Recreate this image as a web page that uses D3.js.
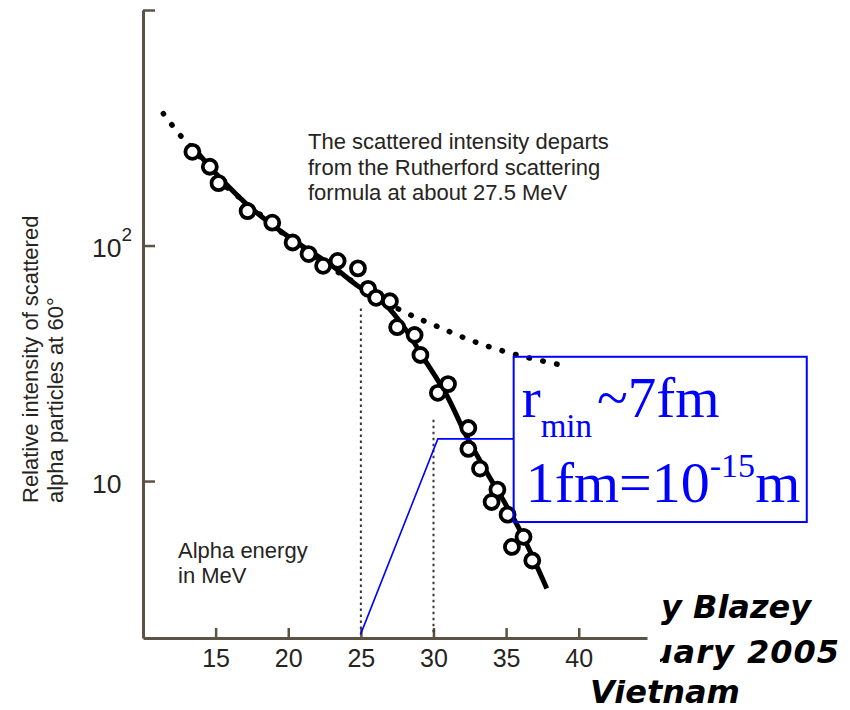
<!DOCTYPE html>
<html lang="en">
<head>
  <meta charset="UTF-8">
  <title>Rutherford scattering departure</title>
  <script src="https://d3js.org/d3.v7.min.js"></script>
  <style>
    body {
      margin: 0;
      background: #fff;
    }
    .label {
      font-family: 'Liberation Sans', Arial, sans-serif;
      font-size: 22px;
      fill: #262420;
    }
    .slide {
      font-family: 'DejaVu Sans', Verdana, sans-serif;
      font-size: 32px;
      font-weight: bold;
      font-style: italic;
      fill: #000;
    }
    .boxtext {
      font-family: 'Liberation Serif', 'Times New Roman', serif;
      fill: #0000ff;
    }
  </style>
</head>
<body>
  <svg id="chart" width="850" height="710"></svg>

  <script>
    // measured alpha energies (MeV) and relative intensities
    const energy = [13.4, 14.6, 15.2, 17.2, 18.9, 20.3, 21.4, 22.4, 23.4, 24.8,
                    25.5, 26.05, 27.0, 27.5, 28.7, 29.1, 30.3, 31.0, 32.4, 32.4,
                    33.2, 34.4, 34.0, 35.1, 36.2, 35.4, 36.8];
    const intensity = [250, 216, 184, 140, 125, 103, 92, 82, 86, 80,
                       65.5, 60, 58, 45, 41.7, 34.3, 23.7, 25.8, 16.8, 13.7,
                       11.3, 9.2, 8.15, 7.2, 5.8, 5.25, 4.6];

    // solid curve drawn through the data
    const fitE = [13.6, 15.3, 17.4, 20.1, 22.9, 24.7, 26.7, 28.0, 29.4, 30.9, 32.3, 33.7, 34.8, 36.0, 37.8];
    const fitI = [255, 194, 145, 108, 83, 68, 56, 44.7, 32.7, 23.2, 15.4, 10.8, 8.3, 6.1, 3.5];

    // dotted Rutherford formula curve
    const rutherE = [11.4, 12.6, 13.6, 15, 17.5, 20, 22.5, 25, 27.7, 30.2, 33, 36, 38.7];
    const rutherI = [363, 292, 252, 195, 145, 108, 84, 67, 53.3, 45.5, 38.7, 34, 31.2];

    const xTicks = [15, 20, 25, 30, 35, 40];
    const yTicks = [10, 100, 1000];
    const yTickBase = ["10", "10", ""];
    const yTickExp = ["", "2", ""];

    // vertical reference lines [energy, top intensity]
    const markers = [[25, 54], [30, 18.2]];

    const noteLines = ["The scattered intensity departs",
                       "from the Rutherford scattering",
                       "formula at about 27.5 MeV"];
    const energyNote = ["Alpha energy", "in MeV"];
    const yLabel = ["Relative intensity of scattered", "alpha particles at 60°"];
    const slideLines = ["y Blazey", "uary 2005", "Vietnam"];

    const svg = d3.select("#chart");
    const axisColor = "#5b5346";

    // slide text behind the picture
    svg.append("text").attr("class", "slide").attr("x", 661).attr("y", 618).text(slideLines[0]);
    svg.append("text").attr("class", "slide").attr("x", 840).attr("y", 663)
      .attr("text-anchor", "end").attr("letter-spacing", 1).text(slideLines[1]);
    svg.append("text").attr("class", "slide").attr("x", 590).attr("y", 703).text(slideLines[2]);

    // picture background
    svg.append("rect").attr("x", 0).attr("y", 0).attr("width", 660).attr("height", 680).attr("fill", "#fff");

    const x = d3.scaleLinear().domain([10, 44.7]).range([143, 647]);
    const y = d3.scaleLog().domain([2.156, 1000]).range([638, 10]);

    // axes
    const xAxis = svg.append("g")
      .attr("transform", `translate(0,${y.range()[0]})`)
      .call(d3.axisBottom(x).tickValues(xTicks).tickSizeInner(-10).tickSizeOuter(0).tickPadding(11)
        .tickFormat(d3.format("d")));
    xAxis.select(".domain").attr("stroke", axisColor).attr("stroke-width", 3);
    xAxis.selectAll(".tick line").attr("stroke", axisColor).attr("stroke-width", 2.5);
    xAxis.selectAll(".tick text")
      .attr("font-family", "'Liberation Sans', Arial, sans-serif")
      .attr("font-size", 25).attr("fill", "#262420");

    const yAxis = svg.append("g")
      .attr("transform", `translate(${x.range()[0]},0)`)
      .call(d3.axisLeft(y).tickValues(yTicks).tickSizeInner(-12).tickSizeOuter(0).tickFormat(""));
    yAxis.select(".domain").attr("stroke", axisColor).attr("stroke-width", 3);
    yAxis.selectAll(".tick line").attr("stroke", axisColor).attr("stroke-width", 2.5);
    yAxis.selectAll(".tick text").remove();
    yAxis.selectAll(".tick").each(function(d, i) {
      if (!yTickBase[i]) return;
      const t = d3.select(this).append("text")
        .attr("x", -51).attr("y", 11)
        .attr("text-anchor", "start")
        .attr("font-family", "'Liberation Sans', Arial, sans-serif")
        .attr("font-size", 26.5).attr("fill", "#262420")
        .text(yTickBase[i]);
      if (yTickExp[i]) {
        t.append("tspan").attr("font-size", 19).attr("dy", -16).text(yTickExp[i]);
      }
    });

    // y axis title
    const yl = svg.append("text")
      .attr("class", "label")
      .attr("transform", "translate(38,503) rotate(-90)");
    yLabel.forEach((s, i) => {
      yl.append("tspan").attr("x", 0).attr("y", i * 25).text(s);
    });

    // vertical dotted markers
    svg.selectAll(".marker")
      .data(markers)
      .enter()
      .append("line")
      .attr("x1", d => x(d[0])).attr("x2", d => x(d[0]))
      .attr("y1", d => y(d[1])).attr("y2", y.range()[0] - 2)
      .attr("stroke", "#3a3630")
      .attr("stroke-width", 2)
      .attr("stroke-dasharray", "2.5,3.5");

    // Rutherford curve
    const rutherData = rutherE.map((e, i) => [e, rutherI[i]]);
    const curve = d3.line().x(d => x(d[0])).y(d => y(d[1])).curve(d3.curveCatmullRom);
    svg.append("path")
      .datum(rutherData)
      .attr("fill", "none")
      .attr("stroke", "#000")
      .attr("stroke-width", 5.5)
      .attr("stroke-linecap", "round")
      .attr("stroke-dasharray", "0.5,13.5")
      .attr("d", curve);

    // fitted curve
    const fitData = fitE.map((e, i) => [e, fitI[i]]);
    svg.append("path")
      .datum(fitData)
      .attr("fill", "none")
      .attr("stroke", "#000")
      .attr("stroke-width", 5)
      .attr("stroke-linecap", "butt")
      .attr("d", curve);

    // data points
    const points = energy.map((e, i) => ({e: e, v: intensity[i]}));
    svg.selectAll("circle")
      .data(points)
      .enter()
      .append("circle")
      .attr("cx", d => x(d.e))
      .attr("cy", d => y(d.v))
      .attr("r", 7)
      .attr("fill", "#fff")
      .attr("stroke", "#000")
      .attr("stroke-width", 3.8);

    // notes
    const note = svg.append("text").attr("class", "label");
    noteLines.forEach((s, i) => {
      note.append("tspan").attr("x", 308).attr("y", 149 + i * 25.5).text(s);
    });
    const eNote = svg.append("text").attr("class", "label");
    energyNote.forEach((s, i) => {
      eNote.append("tspan").attr("x", 178).attr("y", 558 + i * 25).text(s);
    });

    // blue r_min annotation
    const boxLeft = x(35.52), boxTop = y(33.7), boxRight = x(55.7), boxBottom = y(6.7);
    svg.append("polyline")
      .attr("points", [[x(25), y(2.25)], [x(30.3), y(15.1)], [boxLeft, y(15.1)]].map(p => p.join(",")).join(" "))
      .attr("fill", "none")
      .attr("stroke", "#0000ff")
      .attr("stroke-width", 1.6);
    svg.append("rect")
      .attr("x", boxLeft).attr("y", boxTop)
      .attr("width", boxRight - boxLeft).attr("height", boxBottom - boxTop)
      .attr("fill", "none")
      .attr("stroke", "#0000ff")
      .attr("stroke-width", 2);

    const t1 = svg.append("text").attr("class", "boxtext")
      .attr("x", boxLeft + 8).attr("y", boxTop + 60).attr("font-size", 57);
    t1.append("tspan").text("r");
    t1.append("tspan").attr("font-size", 33).attr("dy", 20).text("min");
    t1.append("tspan").attr("dy", -20).attr("dx", 5).text("~7fm");

    const t2 = svg.append("text").attr("class", "boxtext")
      .attr("x", boxLeft + 12).attr("y", boxTop + 145).attr("font-size", 58);
    t2.append("tspan").text("1fm=10");
    t2.append("tspan").attr("font-size", 34).attr("dy", -25).text("-15");
    t2.append("tspan").attr("dy", 25).text("m");
  </script>
</body>
</html>
